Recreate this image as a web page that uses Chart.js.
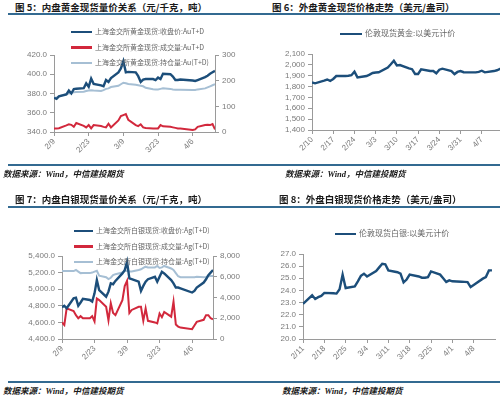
<!DOCTYPE html>
<html>
<head>
<meta charset="utf-8">
<script src="https://cdn.jsdelivr.net/npm/chart.js@4.4.1/dist/chart.umd.min.js"></script>
<style>
  body { margin: 0; width: 500px; height: 399px; overflow: hidden; position: relative; background: #fff; font-family: "Noto Sans CJK SC", sans-serif; }
  .title { position: absolute; font-size: 9.5px; font-weight: bold; color: #1a1a1a; line-height: 10px; white-space: nowrap; }
  .rule { position: absolute; left: 8px; width: 492px; height: 2px; background: #336a91; }
  .source { position: absolute; font-family: "Liberation Serif", "Noto Sans CJK SC", serif; font-size: 8.5px; font-weight: bold; font-style: italic; color: #1a1a1a; line-height: 10px; white-space: nowrap; }
  .legend { position: absolute; font-size: 7px; color: #666; line-height: 10px; white-space: nowrap; }
  .legend i { display: inline-block; width: 21px; height: 2.5px; vertical-align: middle; margin-right: 3px; }
  .legend.big { font-size: 8px; }
  canvas { position: absolute; }
</style>
</head>
<body>

<div class="title" style="left:15px;top:2px">图 5：内盘黄金现货量价关系（元/千克，吨）</div>
<div class="title" style="left:272px;top:2px">图 6：外盘黄金现货价格走势（美元/盎司）</div>
<div class="rule" style="top:13px"></div>

<canvas id="sgeGold" width="250" height="145" style="left:0;top:20px"></canvas>
<canvas id="ldnGold" width="260" height="145" style="left:250px;top:20px"></canvas>

<div class="legend" style="left:71px;top:26px"><i style="background:#1c4e7a"></i>上海金交所黄金现货:收盘价:AuT+D</div>
<div class="legend" style="left:71px;top:41.5px"><i style="background:#d2283c"></i>上海金交所黄金现货:成交量:AuT+D</div>
<div class="legend" style="left:71px;top:57px"><i style="background:#a6bfd4"></i>上海金交所黄金现货:持仓量:Au(T+D)</div>
<div class="legend big" style="left:340px;top:28px"><i style="background:#1c4e7a;width:22px"></i>伦敦现货黄金:以美元计价</div>

<div class="rule" style="top:164px"></div>
<div class="source" style="left:3px;top:169px">数据来源：Wind，中信建投期货</div>
<div class="source" style="left:285px;top:169px">数据来源：Wind，中信建投期货</div>

<div class="title" style="left:15px;top:194px">图 7：内盘白银现货量价关系（元/千克，吨）</div>
<div class="title" style="left:279px;top:194px">图 8：外盘白银现货价格走势（美元/盎司）</div>
<div class="rule" style="top:206px"></div>

<canvas id="sgeSilver" width="250" height="160" style="left:0;top:215px"></canvas>
<canvas id="ldnSilver" width="250" height="160" style="left:250px;top:215px"></canvas>

<div class="legend" style="left:74px;top:225px"><i style="background:#1c4e7a;width:19px"></i>上海金交所白银现货:收盘价:Ag(T+D)</div>
<div class="legend" style="left:74px;top:240.5px"><i style="background:#d2283c;width:19px"></i>上海金交所白银现货:成交量:Ag(T+D)</div>
<div class="legend" style="left:74px;top:256px"><i style="background:#a6bfd4;width:19px"></i>上海金交所白银现货:持仓量:Ag(T+D)</div>
<div class="legend big" style="left:335px;top:228px"><i style="background:#1c4e7a"></i>伦敦现货白银:以美元计价</div>

<div class="rule" style="top:381px"></div>
<div class="source" style="left:3px;top:386px">数据来源：Wind，中信建投期货</div>
<div class="source" style="left:282px;top:386px">数据来源：Wind，中信建投期货</div>

<script>
// trading days on the Shanghai Gold Exchange (2022)
const sgeDates = ['2/9','2/10','2/11','2/14','2/15','2/16','2/17','2/18','2/21','2/22','2/23','2/24','2/25','2/28',
  '3/1','3/2','3/3','3/4','3/7','3/8','3/9','3/10','3/11','3/14','3/15','3/16','3/17','3/18','3/21','3/22','3/23','3/24','3/25','3/28','3/29','3/30','3/31',
  '4/1','4/6','4/7','4/8','4/11','4/12','4/13','4/14','4/15'];

const goldClose = [375.5,374.5,377,379,383,380,384.5,385,385.5,390.5,387,395.5,390,388.5,
  387.5,394,392,396,402,406,413.5,402,402.5,402,398,392,394.5,395,395,394,396.5,395,400.5,400,397.5,394,394,
  394.5,393.5,393,394,397,398.5,400.5,402,403.5];
const goldVolume = [14,14,15,26,30,28,20,35,24,18,27,14,27,23,
  20,18,32,18,45,62,66,70,47,27,23,30,18,16,14,14,14,27,22,20,18,16,14,
  14,8,10,20,27,28,27,31,10];
const goldHolding = [135,133,140,148,150,153,155,156,157,160,162,163,162,160,
  163,168,170,175,180,186,192,190,187,184,182,180,178,172,167,166,166,168,170,168,166,165,165,
  165,164,164,166,170,174,178,182,186];

const silverClose = [4782,4800,4770,4890,4898,4800,4840,4885,4870,4850,4950,5110,4990,4910,
  4970,5070,5060,5100,5190,5230,5330,5130,5120,5090,4980,5040,5090,5120,5150,5090,5150,5210,5190,5110,5070,5020,5020,
  5010,4960,4980,5020,5080,5120,5170,5200,5230];
const silverVolume = [1600,1350,2950,2700,2300,2000,2200,2000,2000,2200,1700,3900,3750,3100,
  1800,3450,2500,2300,3750,5100,5600,2500,2800,3100,3100,1750,2950,1750,1600,1500,2450,2100,2600,2150,3600,1400,1200,
  1100,950,1300,1650,1850,2300,2300,2000,1900];
const silverHolding = [6555,6555,6555,6550,6650,6500,6350,6360,6350,6400,6500,6580,6100,5950,
  5780,5900,6150,6250,6400,6550,6580,6500,6500,6650,6720,6850,6970,6900,6900,7040,6850,6900,7040,6800,6650,6350,6050,
  5950,5950,5950,6000,5950,5980,6050,6070,6070];

// London trading days
const ldnGoldDates = ['2/10','2/11','2/14','2/15','2/16','2/17','2/18','2/21','2/22','2/23','2/24','2/25','2/28',
  '3/1','3/2','3/3','3/4','3/7','3/8','3/9','3/10','3/11','3/14','3/15','3/16','3/17','3/18','3/21','3/22','3/23','3/24','3/25','3/28','3/29','3/30','3/31',
  '4/1','4/4','4/5','4/6','4/7','4/8','4/11','4/12','4/13','4/14'];
const ldnGold = [1838,1830,1855,1865,1852,1870,1897,1897,1900,1905,1937,1885,1897,
  1910,1925,1930,1932,1975,2005,2038,1995,1998,1968,1960,1916,1916,1959,1943,1943,1922,1955,1965,1943,1915,1935,1943,
  1932,1931,1931,1935,1946,1931,1943,1950,1962,1968];

const ldnSilverDates = ldnGoldDates.slice(1);
const ldnSilver = [22.9,23.6,23.3,23.45,23.55,23.8,23.77,23.74,24.1,25.3,24.2,24.33,
  24.75,25.2,25.38,25.15,25.6,25.9,26.2,26.15,25.65,25.5,25.38,24.66,24.9,25.3,25.15,25.05,25.05,25.1,25.57,25.3,25.0,24.7,24.83,
  24.75,24.72,24.7,24.68,24.28,24.45,24.97,25.1,25.65,25.65];

const sgeTicks = ['2/9','2/23','3/9','3/23','4/6'];
const ldnGoldTicks = ['2/10','2/17','2/24','3/3','3/10','3/17','3/24','3/31','4/7'];
const ldnSilverTicks = ['2/11','2/18','2/25','3/4','3/11','3/18','3/25','4/1','4/8'];

const monthStart = {2: 31, 3: 59, 4: 90};
function dayNo(s){
    const p = s.split('/');
    return monthStart[+p[0]] + (+p[1]);
}
function dateLabel(n){
    let m = 4;
    while (monthStart[m] >= n) m--;
    return m + '/' + (n - monthStart[m]);
}
function points(dates, values){
    return dates.map((d, i) => ({x: dayNo(d), y: values[i]}));
}

const GREY = '#9a9a9a';
const NAVY = '#1c4e7a';
const RED = '#d2283c';
const PALE = '#a6bfd4';

Chart.defaults.font.family = "'Liberation Sans', Arial, sans-serif";
Chart.defaults.font.size = 8;
Chart.defaults.color = '#7a7a7a';

function xAxis(start, end, tickDates, height){
    return {
        type: 'linear',
        min: dayNo(start),
        max: dayNo(end),
        grid: {drawOnChartArea: false, tickLength: 4, color: GREY},
        border: {color: GREY},
        ticks: {autoSkip: false, minRotation: 45, maxRotation: 45, padding: 1, callback: v => dateLabel(v)},
        afterBuildTicks: s => { s.ticks = tickDates.map(t => ({value: dayNo(t)})); },
        afterFit: s => { s.height = height; }
    };
}
function yAxis(position, min, max, step, width, fmt){
    return {
        position: position,
        min: min,
        max: max,
        grid: {drawOnChartArea: false, tickLength: 4, color: GREY},
        border: {color: GREY},
        ticks: {stepSize: step, autoSkip: false, padding: 3, callback: fmt},
        afterFit: s => { s.width = width; }
    };
}
function line(data, color, width, axis, order){
    return {data: data, borderColor: color, borderWidth: width, pointRadius: 0, tension: 0, yAxisID: axis, order: order};
}
const oneDecimal = v => v.toLocaleString('en-US', {minimumFractionDigits: 1, maximumFractionDigits: 1});
const plain = v => v.toLocaleString('en-US');

const baseOptions = {
    responsive: false,
    animation: false,
    plugins: {legend: {display: false}, tooltip: {enabled: false}}
};

new Chart(document.getElementById('sgeGold'), {
    type: 'line',
    data: {datasets: [
        line(points(sgeDates, goldClose), NAVY, 2.4, 'y', 1),
        line(points(sgeDates, goldVolume), RED, 2, 'y1', 2),
        line(points(sgeDates, goldHolding), PALE, 2, 'y1', 3)
    ]},
    options: Object.assign({}, baseOptions, {
        layout: {padding: {top: 35, right: 0, left: 0, bottom: 0}},
        scales: {
            x: xAxis('2/9', '4/15', sgeTicks, 33),
            y: yAxis('left', 340, 420, 20, 54, oneDecimal),
            y1: yAxis('right', 0, 300, 100, 35, plain)
        }
    })
});

new Chart(document.getElementById('ldnGold'), {
    type: 'line',
    data: {datasets: [line(points(ldnGoldDates, ldnGold), NAVY, 2.4, 'y', 1)]},
    options: Object.assign({}, baseOptions, {
        layout: {padding: {top: 34, right: 7, left: 0, bottom: 0}},
        scales: {
            x: xAxis('2/10', '4/14', ldnGoldTicks, 35),
            y: yAxis('left', 1400, 2100, 100, 62, plain)
        }
    })
});

new Chart(document.getElementById('sgeSilver'), {
    type: 'line',
    data: {datasets: [
        line(points(sgeDates, silverClose), NAVY, 2.4, 'y', 1),
        line(points(sgeDates, silverVolume), RED, 2, 'y1', 2),
        line(points(sgeDates, silverHolding), PALE, 2, 'y1', 3)
    ]},
    options: Object.assign({}, baseOptions, {
        layout: {padding: {top: 41, right: 0, left: 0, bottom: 0}},
        scales: {
            x: xAxis('2/9', '4/15', sgeTicks, 36),
            y: yAxis('left', 4400, 5400, 200, 62, oneDecimal),
            y1: yAxis('right', 0, 8000, 2000, 37, plain)
        }
    })
});

new Chart(document.getElementById('ldnSilver'), {
    type: 'line',
    data: {datasets: [line(points(ldnSilverDates, ldnSilver), NAVY, 2.4, 'y', 1)]},
    options: Object.assign({}, baseOptions, {
        layout: {padding: {top: 39, right: 5, left: 0, bottom: 0}},
        scales: {
            x: xAxis('2/11', '4/15', ldnSilverTicks, 36),
            y: yAxis('left', 20, 27, 1, 53, oneDecimal)
        }
    })
});
</script>
</body>
</html>
